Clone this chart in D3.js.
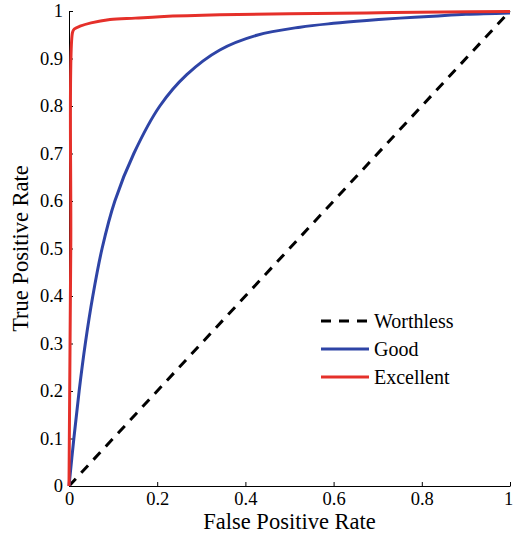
<!DOCTYPE html>
<html>
<head>
<meta charset="utf-8">
<script src="https://cdn.jsdelivr.net/npm/d3@7"></script>
<style>
  body { margin: 0; background: #fff; }
</style>
</head>
<body>
<div id="chart"></div>
<script>
//          Chart data
var seriesNames = ["Worthless", "Good", "Excellent"];
var seriesColors = ["#000000", "#2e44a6", "#e5302a"];

var worthlessFpr = [0, 1];
var worthlessTpr = [0, 1];

var goodFpr = [0, 0.011, 0.023, 0.037, 0.054, 0.075, 0.104, 0.147, 0.206, 0.267, 0.342, 0.426, 0.524, 0.6, 0.675, 0.75, 0.826, 0.9, 1.0];
var goodTpr = [0, 0.10, 0.20, 0.30, 0.40, 0.50, 0.60, 0.70, 0.80, 0.866, 0.918, 0.949, 0.966, 0.974, 0.980, 0.985, 0.989, 0.993, 0.996];

var excellentFpr = [0, 0.004, 0.008, 0.012, 0.025, 0.05, 0.093, 0.15, 0.206, 0.342, 0.5, 0.675, 0.85, 1.0];
var excellentTpr = [0, 0.5, 0.955, 0.962, 0.968, 0.975, 0.982, 0.985, 0.988, 0.992, 0.994, 0.996, 0.998, 0.999];

var xTicks = [0, 0.2, 0.4, 0.6, 0.8, 1];
var yTicks = [0, 0.1, 0.2, 0.3, 0.4, 0.5, 0.6, 0.7, 0.8, 0.9, 1];

//          Chart settings
var width = 513, height = 537;
var margin = {top: 11, right: 3, bottom: 51, left: 69};
var w = width - margin.left - margin.right;
var h = height - margin.top - margin.bottom;
var serif = "'Liberation Serif', 'Times New Roman', Times, serif";

function zipData(xs, ys) {
    var out = [];
    for (var i = 0; i < xs.length; i++) out.push([xs[i], ys[i]]);
    return out;
}

var svg = d3.select("#chart").append("svg")
    .attr("width", width)
    .attr("height", height);

var g = svg.append("g").attr("transform", "translate(" + margin.left + "," + margin.top + ")");

var x = d3.scaleLinear().domain([0, 1]).range([0, w]);
var y = d3.scaleLinear().domain([0, 1]).range([h, 0]);

//          Axes (ticks pointing inward, no box)
var xAxis = d3.axisBottom(x).tickValues(xTicks).tickSizeInner(-4).tickSizeOuter(0).tickPadding(6)
    .tickFormat(function(d) { return String(d); });
var yAxis = d3.axisLeft(y).tickValues(yTicks).tickSizeInner(-4).tickSizeOuter(0).tickPadding(6)
    .tickFormat(function(d) { return String(+d.toFixed(1)); });

var gx = g.append("g").attr("transform", "translate(0," + h + ")").call(xAxis);
var gy = g.append("g").call(yAxis);

[gx, gy].forEach(function(a) {
    a.attr("font-family", serif).attr("font-size", 18.5);
    a.selectAll("path, line").attr("stroke", "#000").attr("stroke-width", 1);
    a.selectAll("text").style("font-family", serif).style("font-size", "18.5px").attr("fill", "#000");
});
// last x label sits right at the edge
gx.selectAll(".tick text").filter(function(d) { return d === 1; }).attr("dx", "-2");

//          Axis labels
svg.append("text")
    .attr("x", margin.left + w / 2)
    .attr("y", 529)
    .attr("text-anchor", "middle")
    .style("font-family", serif)
    .style("font-size", "22.5px")
    .text("False Positive Rate");

svg.append("text")
    .attr("transform", "translate(28," + (margin.top + h / 2) + ") rotate(-90)")
    .attr("text-anchor", "middle")
    .style("font-family", serif)
    .style("font-size", "22.5px")
    .text("True Positive Rate");

//          Curves
var line = d3.line()
    .x(function(d) { return x(d[0]); })
    .y(function(d) { return y(d[1]); })
    .curve(d3.curveCatmullRom.alpha(0.5));

var series = [
    {name: seriesNames[0], data: zipData(worthlessFpr, worthlessTpr), color: seriesColors[0], dash: "10,8"},
    {name: seriesNames[1], data: zipData(goodFpr, goodTpr), color: seriesColors[1], dash: null},
    {name: seriesNames[2], data: zipData(excellentFpr, excellentTpr), color: seriesColors[2], dash: null}
];

g.selectAll("path.curve").data(series).enter().append("path")
    .attr("class", "curve")
    .attr("d", function(d) { return line(d.data); })
    .attr("fill", "none")
    .attr("stroke", function(d) { return d.color; })
    .attr("stroke-width", 3)
    .attr("stroke-dasharray", function(d) { return d.dash; });

//          Legend
var legend = svg.append("g").attr("transform", "translate(321,321)");
var rows = legend.selectAll("g").data(series).enter().append("g")
    .attr("transform", function(d, i) { return "translate(0," + (i * 28) + ")"; });

rows.append("line")
    .attr("x1", 0).attr("x2", 48)
    .attr("y1", 0).attr("y2", 0)
    .attr("stroke", function(d) { return d.color; })
    .attr("stroke-width", 3)
    .attr("stroke-dasharray", function(d) { return d.dash; });

rows.append("text")
    .attr("x", 53)
    .attr("y", 7)
    .style("font-family", serif)
    .style("font-size", "20px")
    .text(function(d) { return d.name; });
</script>
</body>
</html>
